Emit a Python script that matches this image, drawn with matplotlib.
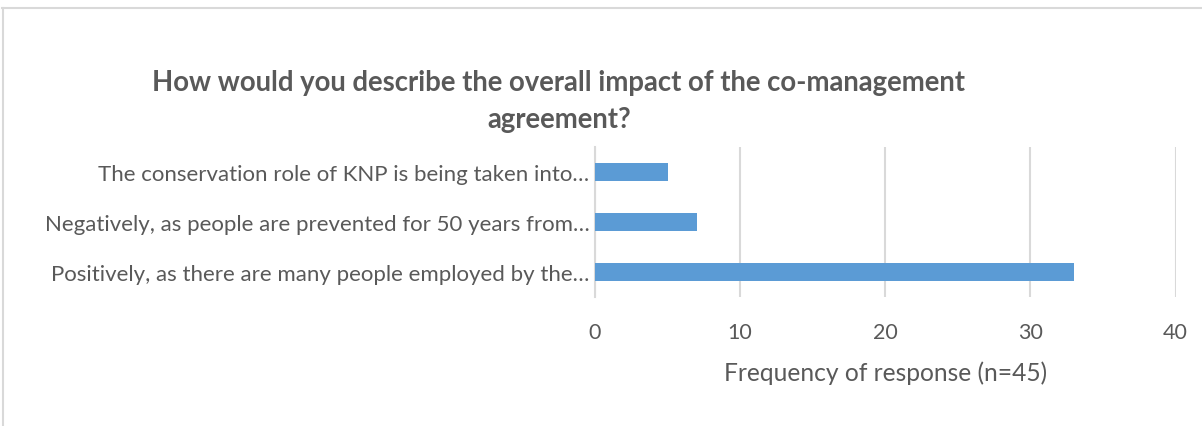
import matplotlib.pyplot as plt
from matplotlib.lines import Line2D

categories = [
    "Positively, as there are many people employed by the\u2026",
    "Negatively, as people are prevented for 50 years from\u2026",
    "The conservation role of KNP is being taken into\u2026",
]
counts = [33, 7, 5]
xticks = [0, 10, 20, 30, 40]

plt.rcParams['font.family'] = ['Lato', 'DejaVu Sans']
text_col = '#595959'

fig = plt.figure(figsize=(12.02, 4.27), dpi=100)
ax = fig.add_axes([0.495, 0.302, 0.483, 0.351])

ax.barh(range(len(categories)), counts, height=0.36, color='#5B9BD5', zorder=3)
ax.set_ylim(-0.5, len(categories) - 0.5)
ax.set_xlim(0, 40)
ax.set_xticks(xticks)
ax.set_yticks(range(len(categories)))
ax.set_yticklabels(categories, fontsize=16, color=text_col)
ax.tick_params(axis='x', labelsize=15.5, labelcolor=text_col, length=0, pad=18)
ax.tick_params(axis='y', length=0, pad=4)
ax.grid(axis='x', color='#D9D9D9', linewidth=1.5, zorder=0)
for s in ['top', 'right', 'bottom']:
    ax.spines[s].set_visible(False)
ax.spines['left'].set_color('#D9D9D9')
ax.spines['left'].set_linewidth(1.5)

ax.set_xlabel("Frequency of response (n=45)", fontsize=17.7, color=text_col, labelpad=13)

fig.text(0.465, 0.762, "How would you describe the overall impact of the co-management\nagreement?",
         ha='center', va='center', fontsize=19.8, fontweight='bold', color=text_col,
         linespacing=1.5)

# chart frame (only top and left edges visible in the crop)
fig.add_artist(Line2D([0.002, 1.0], [0.978, 0.978], transform=fig.transFigure, color='#D9D9D9', lw=1.5))
fig.add_artist(Line2D([0.0025, 0.0025], [0.0, 0.978], transform=fig.transFigure, color='#D9D9D9', lw=1.5))

fig.savefig('out.png', dpi=100)
